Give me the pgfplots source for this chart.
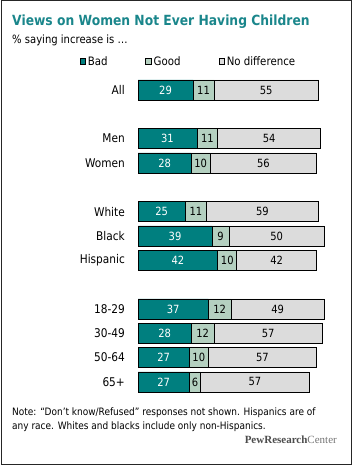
\documentclass[border=0pt]{standalone}
\usepackage{pgfplots}
\usepackage{pgfplotstable}
\pgfplotsset{compat=1.18}
\usepackage{fontspec}
\setmainfont{DejaVu Sans}[FakeStretch=0.88]
\newfontfamily\pewfont{Liberation Serif}
\definecolor{bad}{HTML}{007F7F}
\definecolor{good}{HTML}{B4D0C0}
\definecolor{nodiff}{HTML}{DCDCDC}
\definecolor{ttl}{HTML}{1A868B}

\pgfplotstableread{
y bad good nodiff
0 29 11 55
2 31 11 54
3 28 10 56
5 25 11 59
6 39 9 50
7 42 10 42
9 37 12 49
10 28 12 57
11 27 10 57
12 27 6 57
}\data

\pgfplotsset{common/.style={
  scale only axis, width=190pt, height=340.6pt,
  at={(138pt,400.33pt)}, anchor=north west,
  xmin=0, xmax=100, ymin=-1, ymax=13, y dir=reverse,
}}

\begin{document}
\begin{tikzpicture}
\useasboundingbox (0,0) rectangle (353pt,466pt);
\draw[line width=1pt, black!85] (1pt,1.5pt) rectangle (351pt,465pt);

\begin{axis}[common,
  xbar stacked, bar width=20pt,
  axis line style={draw=none}, tick style={draw=none},
  xtick=\empty,
  ytick={0,2,3,5,6,7,9,10,11,12},
  yticklabels={All,Men,Women,White,Black,Hispanic,18-29,30-49,50-64,65+},
  yticklabel style={font=\fontsize{12}{14}\selectfont, inner sep=0pt, xshift=-13pt},
  legend columns=3,
  legend style={draw=none, fill=none, at={(axis description cs:0.265,1.012)}, anchor=center,
    font=\fontsize{11.6}{13}\selectfont,
    /tikz/every even column/.append style={column sep=36pt}},
  legend image code/.code={\draw[#1, line width=0.6pt] (0pt,-2.8pt) rectangle (5.6pt,2.8pt);},
]
\addplot[fill=bad, draw=black, line width=0.8pt] table[x=bad, y=y] {\data};
\addplot[fill=good, draw=black, line width=0.8pt] table[x=good, y=y] {\data};
\addplot[fill=nodiff, draw=black, line width=0.8pt] table[x=nodiff, y=y] {\data};
\legend{Bad,Good,No difference}
\end{axis}

\begin{axis}[common, hide axis,
  nodes near coords style={anchor=center, font=\fontsize{11.3}{13}\selectfont}]
\addplot[draw=none, mark=none, nodes near coords, point meta=explicit symbolic,
  nodes near coords style={text=white}]
  table[x expr=\thisrow{bad}/2, y=y, meta=bad] {\data};
\addplot[draw=none, mark=none, nodes near coords, point meta=explicit symbolic]
  table[x expr=\thisrow{bad}+\thisrow{good}/2, y=y, meta=good] {\data};
\addplot[draw=none, mark=none, nodes near coords, point meta=explicit symbolic]
  table[x expr=\thisrow{bad}+\thisrow{good}+\thisrow{nodiff}/2, y=y, meta=nodiff] {\data};
\end{axis}

\node[anchor=base west, inner sep=0pt, text=ttl, font=\fontsize{14}{16}\selectfont\bfseries] at (12pt,440.5pt) {Views on Women Not Ever Having Children};
\node[anchor=base west, inner sep=0pt, font=\fontsize{11.4}{13}\selectfont] at (12pt,422pt) {\% saying increase is \dots};
\node[anchor=base west, inner sep=0pt, font=\fontsize{10.2}{12}\selectfont] at (12pt,50.3pt) {Note: “Don’t know/Refused” responses not shown. Hispanics are of};
\node[anchor=base west, inner sep=0pt, font=\fontsize{10.2}{12}\selectfont] at (12pt,36.3pt) {any race. Whites and blacks include only non-Hispanics.};
\node[anchor=base east, inner sep=0pt, font=\fontsize{11}{13}\selectfont\pewfont] at (337pt,23pt) {\textcolor{black!70}{\textbf{PewResearch}}\textcolor{black!55}{Center}};
\end{tikzpicture}
\end{document}
